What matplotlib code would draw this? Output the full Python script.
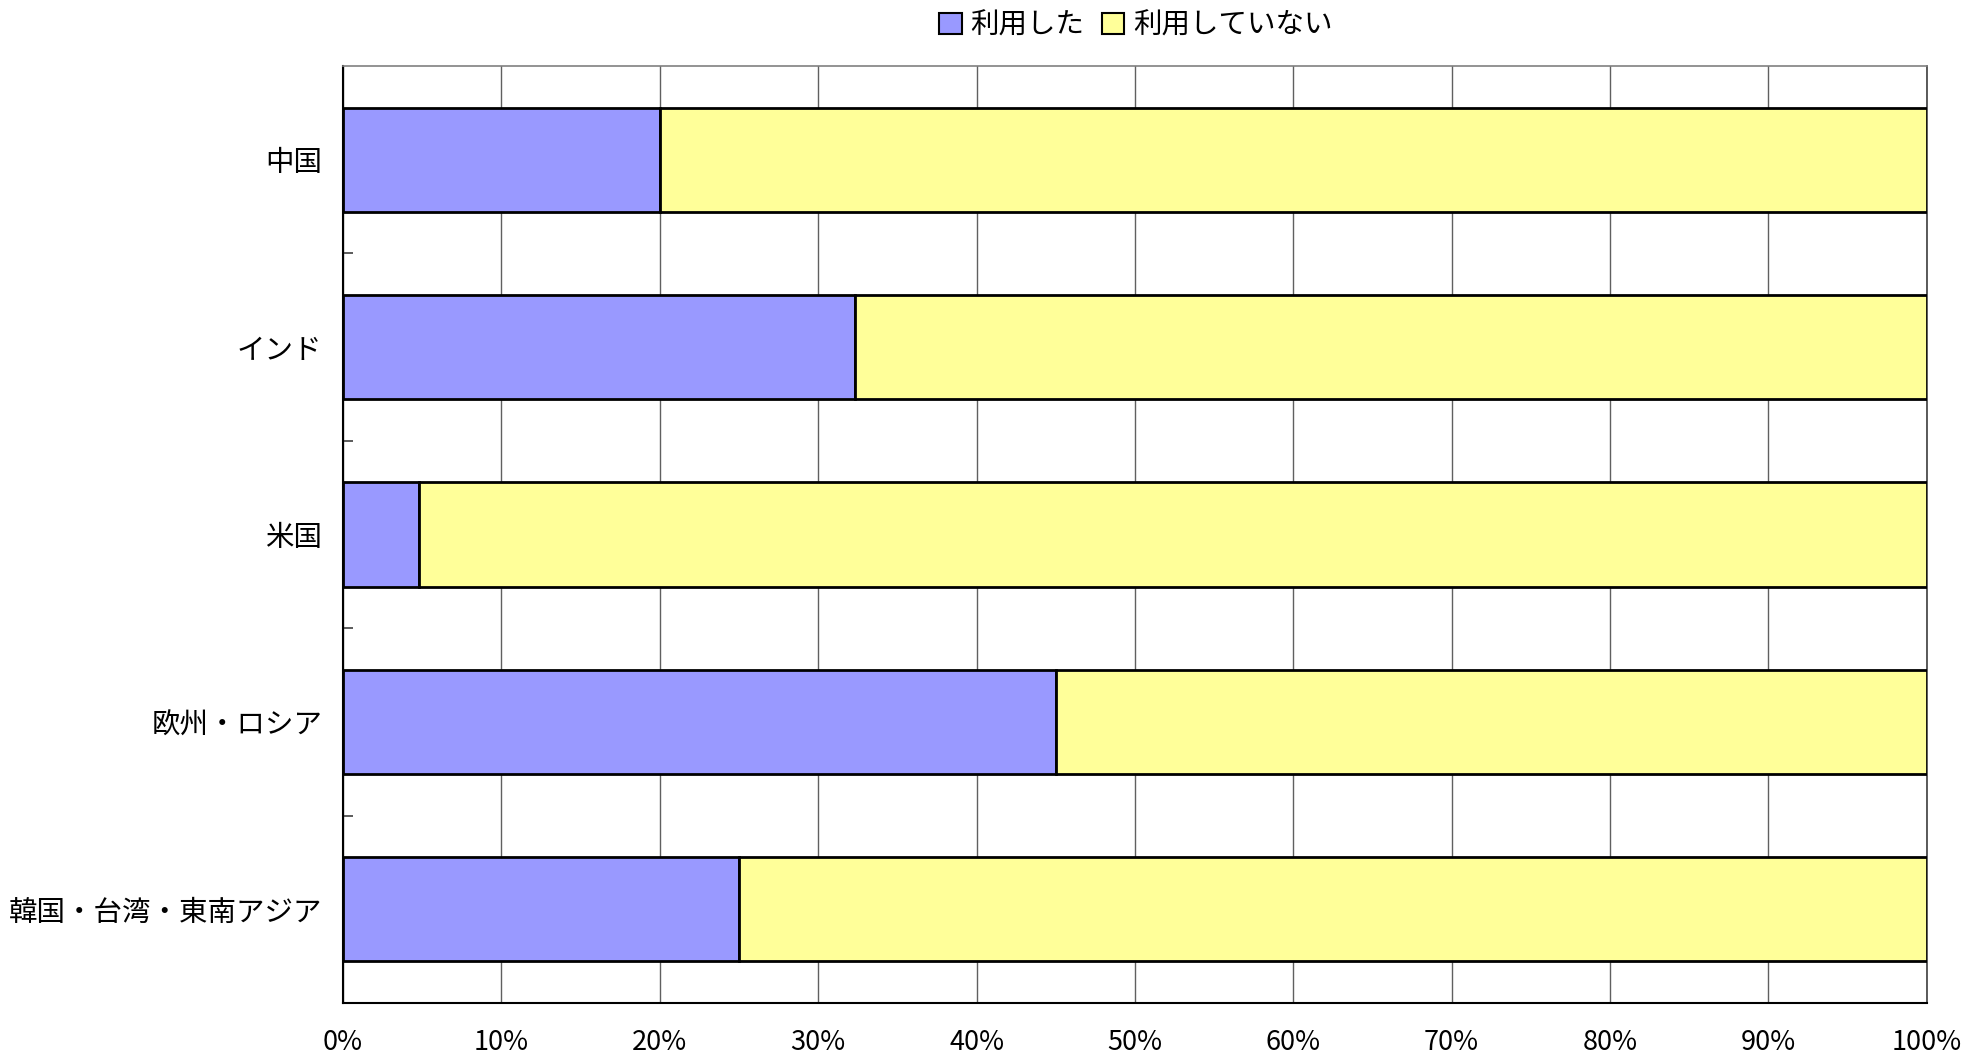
import matplotlib
matplotlib.use("Agg")
import matplotlib.pyplot as plt
import numpy as np

plt.rcParams['font.family'] = ['Noto Sans CJK JP', 'DejaVu Sans']

categories = ["中国", "インド", "米国", "欧州・ロシア", "韓国・台湾・東南アジア"]
used = [20.0, 32.3, 4.8, 45.0, 25.0]
not_used = [100 - v for v in used]
series_names = ["利用した", "利用していない"]
xtick_labels = [f"{v}%" for v in range(0, 101, 10)]

fig = plt.figure(figsize=(19.65, 10.6), dpi=100)
ax = fig.add_axes([0.1746, 0.0538, 0.8059, 0.8839])

y = np.arange(len(categories))
h = 0.556
ax.barh(y, used, height=h, color="#9999FF", edgecolor="black", linewidth=2, label=series_names[0], zorder=3)
ax.barh(y, not_used, left=used, height=h, color="#FFFF99", edgecolor="black", linewidth=2, label=series_names[1], zorder=3)

ax.set_xlim(0, 100)
ax.set_ylim(len(categories) - 0.5, -0.5)
ax.set_xticks(np.arange(0, 101, 10))
ax.set_xticklabels(xtick_labels, fontsize=19.5)
ax.set_yticks(y)
ax.set_yticklabels(categories, fontsize=20.5)
ax.set_yticks(np.arange(0.5, len(categories) - 0.5, 1), minor=True)
ax.tick_params(axis='y', which='major', length=0, pad=15)
ax.tick_params(axis='y', which='minor', length=7, direction='in', width=1.2, color='#404040')
ax.tick_params(axis='x', which='major', length=0, pad=19)
ax.grid(axis='x', color='#606060', linewidth=1, zorder=0)

ax.spines['left'].set_color('black')
ax.spines['left'].set_linewidth(1.5)
ax.spines['bottom'].set_color('black')
ax.spines['bottom'].set_linewidth(1.5)
ax.spines['top'].set_color('#808080')
ax.spines['top'].set_linewidth(1.2)
ax.spines['right'].set_color('#404040')
ax.spines['right'].set_linewidth(1.2)

leg = fig.legend(loc='center', bbox_to_anchor=(0.578, 0.976), ncol=2, frameon=False,
                 fontsize=20.5, handlelength=0.8, handleheight=0.8, handletextpad=0.3,
                 columnspacing=0.6)
for p in leg.get_patches():
    p.set_linewidth(1.5)

fig.savefig("out.png", dpi=100)
